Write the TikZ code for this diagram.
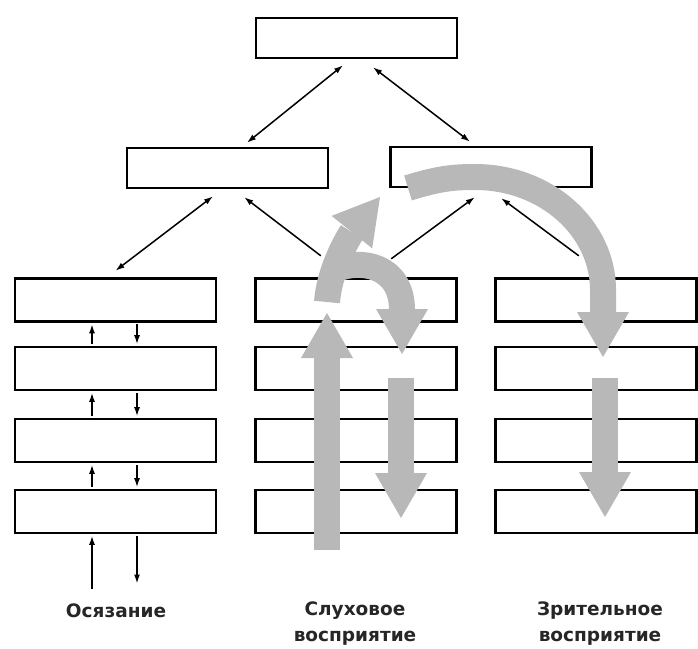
\documentclass[tikz,border=0pt]{standalone}
\usepackage{fontspec}
\setmainfont{DejaVu Sans}
\usetikzlibrary{arrows.meta,positioning,calc}
\begin{document}
\begin{tikzpicture}[x=1pt,y=-1pt,>={Latex[length=9pt,width=6pt]},every node/.style={font=\bfseries\fontsize{18.5}{26}\selectfont,align=center,text=black!85},level/.style={draw,line width=2.6pt,minimum width=201pt,minimum height=40pt,inner sep=0pt},stage/.style={level,minimum height=43pt},link/.style={<->,line width=1.5pt},feed/.style={->,line width=1.5pt,shorten >=1.5pt,shorten <=1.5pt},flow/.style={line width=26pt,black!28,-{Triangle[length=45pt,width=52pt,line width=0pt]}}]
\useasboundingbox (0,0) rectangle (698,648);
\node[level] (top) at (356.5,38) {};
\node[level] (ml) at (227.5,168) {};
\node[level] (mr) at (491,167) {};
\foreach \n/\y in {1/300,2/368.5,3/440.5,4/511.5} {\node[stage] (t\n) at (115.5,\y) {}; \node[stage] (h\n) at (356,\y) {}; \node[stage] (v\n) at (596,\y) {};}
\coordinate (tin) at (92,590); \coordinate (tout) at (137,585);
\draw[link] ([xshift=-13.5,yshift=-6]top.south) -- ([xshift=19.5,yshift=4]ml.north);
\draw[link] ([xshift=16.5,yshift=-8]top.south) -- ([xshift=-21,yshift=4]mr.north);
\draw[link] ([xshift=-14.5,yshift=-7]ml.south) -- ([yshift=6.5]t1.north);
\draw[feed] ([xshift=-34,yshift=20.5]h1.north) -- ([xshift=15.5,yshift=-7]ml.south);
\draw[feed] ([xshift=34,yshift=17.5]h1.north) -- ([xshift=-15,yshift=-8]mr.south);
\draw[feed] ([xshift=-16,yshift=20.5]v1.north) -- ([xshift=9,yshift=-9]mr.south);
\foreach \u/\l in {t1/t2,t2/t3,t3/t4} {\draw[feed] (\l.north -| tin) -- (\u.south -| tin); \draw[feed] (\u.south -| tout) -- (\l.north -| tout);}
\draw[feed] (tin) -- (t4.south -| tin); \draw[feed] (t4.south -| tout) -- (tout);
\draw[flow] (327,550) -- (327,313);
\draw[flow] (401,378) -- (401,518);
\draw[flow] (605,378) -- (605,517);
\draw[flow] (327,302) .. controls (330,265) and (352,232) .. (380,197);
\draw[flow] (334,270) .. controls (360,258) and (402,265) .. (402,310) -- (402,354);
\draw[flow] (408,188) .. controls (440,178) and (455,177) .. (475,177) .. controls (546,177) and (603,228) .. (603,290) -- (603,357);
\node (touch) at (116,611) {Осязание};
\node (hearing) at (355,624) {Слуховое\\восприятие};
\node (vision) at (600,624) {Зрительное\\восприятие};
\end{tikzpicture}
\end{document}
